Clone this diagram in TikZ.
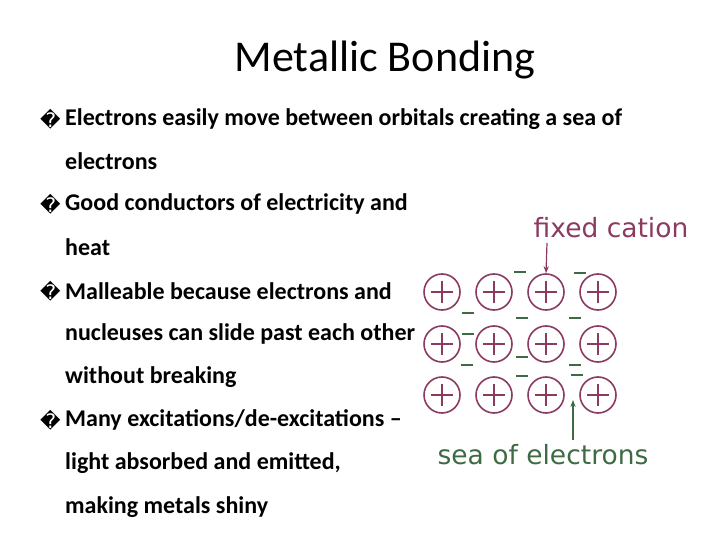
\documentclass[tikz,border=0pt]{standalone}
\usepackage{fontspec}
\setmainfont{Carlito}
\newfontfamily\dejavu{DejaVu Sans}
\usetikzlibrary{arrows.meta}
\definecolor{cat}{HTML}{8B3A62}
\definecolor{ele}{HTML}{3F6B44}
\begin{document}
\begin{tikzpicture}[x=1pt,y=-1pt,
  line/.style={anchor=west,font=\fontsize{24}{28}\selectfont\bfseries,inner sep=0},
  bul/.style={anchor=west,font=\dejavu\fontsize{20}{24}\selectfont,inner sep=0},
  lab/.style={font=\dejavu\fontsize{26.5}{30}\selectfont},
  ion/.style={circle,draw=cat,line width=1.6pt,minimum size=36pt,inner sep=0},
  mn/.style={ele,line width=1.8pt}]
\useasboundingbox (0,0) rectangle (720,540);
\node (title) at (385,60) {\fontsize{44}{48}\selectfont Metallic Bonding};
\node[bul] (b1) at (40,119) {�};
\node[line] (t1) at (65,119) {Electrons easily move between orbitals creating a sea of};
\node[line] (t2) at (65,161) {electrons};
\node[bul] (b2) at (40,204) {�};
\node[line] (t3) at (65,204) {Good conductors of electricity and};
\node[line] (t4) at (65,247) {heat};
\node[bul] (b3) at (40,291) {�};
\node[line] (t5) at (65,291) {Malleable because electrons and};
\node[line] (t6) at (65,334) {nucleuses can slide past each other};
\node[line] (t7) at (65,377) {without breaking};
\node[bul] (b4) at (40,420) {�};
\node[line] (t8) at (65,420) {Many excitations/de-excitations --};
\node[line] (t9) at (65,463) {light absorbed and emitted,};
\node[line] (t10) at (65,507) {making metals shiny};
\foreach \r/\y in {1/292,2/344,3/395}{
 \foreach \c/\x in {1/442,2/494,3/546,4/598}{
  \node[ion] (i\r\c) at (\x,\y) {};
  \draw[cat,line width=1.6pt] (\x-11,\y) -- (\x+11,\y) (\x,\y-11) -- (\x,\y+11);
 }}
\foreach \x/\y in {520/272,580/273,468/313,522/318,575/318,468/334,467/365,522/357,575/365,522/376,577/375}
  \draw[mn] (\x-6,\y) -- (\x+6,\y);
\node[lab,text=cat] (fc) at (611,228) {fixed cation};
\node[lab,text=ele] (se) at (543,455) {sea of electrons};
\coordinate (fa) at (547,243);
\coordinate (sa) at (573,440);
\draw[cat,line width=1.2pt,-{Stealth[length=7pt]}] (fa) -- (i13.north);
\draw[ele,line width=1.2pt,-{Stealth[length=7pt]}] (sa) -- (573,400);
\end{tikzpicture}
\end{document}
